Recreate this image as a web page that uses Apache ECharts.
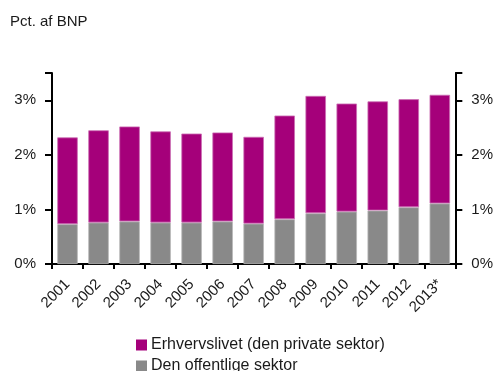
<!DOCTYPE html>
<html>
<head>
<meta charset="utf-8">
<script src="https://cdn.jsdelivr.net/npm/echarts@6/dist/echarts.min.js"></script>
<style>
  html, body { margin: 0; padding: 0; background: #fff; }
  #chart { width: 496px; height: 371px; }
</style>
</head>
<body>
<div id="chart"></div>
<script>
// R&D expenditure as share of GDP, by sector
const years = ['2001','2002','2003','2004','2005','2006','2007','2008','2009','2010','2011','2012','2013*'];
const publicSector = [0.73, 0.76, 0.78, 0.76, 0.76, 0.78, 0.74, 0.82, 0.93, 0.96, 0.98, 1.04, 1.11];
const privateSector = [1.59, 1.69, 1.74, 1.67, 1.63, 1.63, 1.59, 1.90, 2.15, 1.98, 2.00, 1.98, 1.99];
const yTicks = [0, 1, 2, 3];

const PRIVATE_NAME = 'Erhvervslivet (den private sektor)';
const PUBLIC_NAME = 'Den offentlige sektor';

const FONT = '"Liberation Sans", "DejaVu Sans", sans-serif';
const TEXT = '#1a1a1a';
const PURPLE = '#A5007A';
const GREY = '#898989';

const yAxisBase = {
  type: 'value',
  min: 0,
  max: 3.5,
  interval: 1,
  splitLine: { show: false },
  axisLine: { show: true, lineStyle: { color: '#000', width: 2 } },
  axisTick: { show: true, length: 7, lineStyle: { color: '#000', width: 2 } },
  axisLabel: {
    color: TEXT, fontSize: 15, fontFamily: FONT, margin: 16,
    formatter: v => (yTicks.indexOf(v) >= 0 ? v + '%' : '')
  }
};

const legendBase = {
  left: 131,
  itemWidth: 11, itemHeight: 11, itemGap: 0,
  icon: 'rect',
  itemStyle: { borderWidth: 0 },
  textStyle: { fontSize: 16, color: TEXT, fontFamily: FONT, padding: [0, 0, 0, -1] }
};

const chart = echarts.init(document.getElementById('chart'));
chart.setOption({
  animation: false,
  title: {
    text: 'Pct. af BNP',
    left: 5, top: 9,
    textStyle: { fontSize: 15, fontWeight: 'normal', color: TEXT, fontFamily: FONT }
  },
  grid: { left: 52, right: 38, top: 73, bottom: 107 },
  legend: [
    Object.assign({}, legendBase, { top: 332, data: [PRIVATE_NAME] }),
    Object.assign({}, legendBase, { top: 353, data: [PUBLIC_NAME] })
  ],
  xAxis: {
    type: 'category',
    data: years,
    axisLine: { lineStyle: { color: '#000', width: 2 } },
    axisTick: { show: true, length: 5, lineStyle: { color: '#000', width: 2 } },
    axisLabel: { rotate: 45, color: TEXT, fontSize: 15, fontFamily: FONT, margin: 18, interval: 0 }
  },
  yAxis: [
    Object.assign({}, yAxisBase, { position: 'left' }),
    Object.assign({}, yAxisBase, { position: 'right' })
  ],
  series: [
    {
      name: PUBLIC_NAME,
      type: 'bar', stack: 'total', barWidth: '66%',
      itemStyle: { color: GREY, borderColor: '#b8b8b8', borderWidth: 0.8 },
      data: publicSector
    },
    {
      name: PRIVATE_NAME,
      type: 'bar', stack: 'total', barWidth: '66%',
      itemStyle: { color: PURPLE, borderColor: '#cc6fb4', borderWidth: 0.8 },
      data: privateSector
    }
  ]
});
</script>
</body>
</html>
